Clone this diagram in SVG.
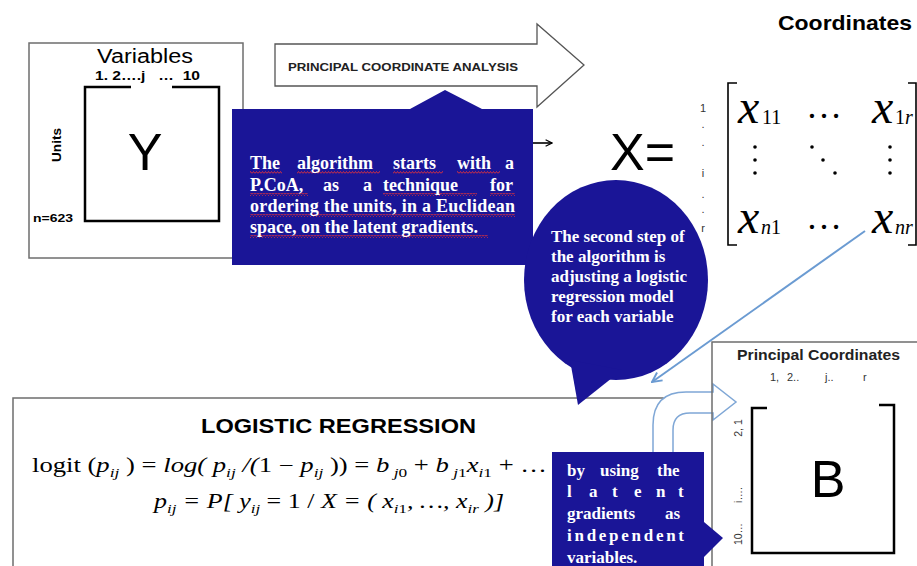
<svg xmlns="http://www.w3.org/2000/svg" width="917" height="566" viewBox="0 0 917 566">
<defs>
<style>
.sans{font-family:"Liberation Sans",Arial,sans-serif}
.serif{font-family:"Liberation Serif","Times New Roman",serif}
.b{font-weight:bold}
.i{font-style:italic}
.box{fill:#fff;stroke:#6e6e6e;stroke-width:1.5}
.blue{fill:#1a1597}
.wt{fill:#fff;font-family:"Liberation Serif","Times New Roman",serif;font-weight:bold}
.brk{fill:none;stroke:#000;stroke-width:2.5}
.mbrk{fill:none;stroke:#000;stroke-width:1.6}
.sq{fill:url(#wave)}
.lab{font-family:"Liberation Sans",Arial,sans-serif;fill:#333}
</style>
<pattern id="wave" patternUnits="userSpaceOnUse" width="3" height="3">
<path d="M0,2.5 L1.5,0.5 L3,2.5" fill="none" stroke="#e0303a" stroke-width="0.9"/>
</pattern>
<marker id="ab" viewBox="0 0 10 10" refX="9" refY="5" markerWidth="8" markerHeight="8" markerUnits="userSpaceOnUse" orient="auto">
<path d="M1,1 L9,5 L1,9" fill="none" stroke="#000" stroke-width="1.6"/>
</marker>
<marker id="al" viewBox="0 0 10 10" refX="9" refY="5" markerWidth="12" markerHeight="12" markerUnits="userSpaceOnUse" orient="auto">
<path d="M1,1 L9,5 L1,9" fill="none" stroke="#6b9bd2" stroke-width="1.6"/>
</marker>
</defs>
<rect width="917" height="566" fill="#fff"/>

<g id="input-matrix">
<rect class="box" x="29" y="43" width="214" height="215"/>
<text class="sans" x="97" y="63" font-size="20" textLength="96" lengthAdjust="spacingAndGlyphs">Variables</text>
<text class="sans b" x="95" y="80" font-size="12" textLength="105" lengthAdjust="spacingAndGlyphs" xml:space="preserve">1. 2….j   …  10</text>
<path class="brk" d="M131,87 L85,87 L85,221 L219,221 L219,87 L172,87"/>
<text class="sans" x="145" y="170" font-size="52" text-anchor="middle">Y</text>
<text class="sans b" font-size="13" text-anchor="middle" transform="translate(61,145) rotate(-90)" textLength="34" lengthAdjust="spacingAndGlyphs">Units</text>
<text class="sans b" x="33" y="222" font-size="11.5" textLength="40" lengthAdjust="spacingAndGlyphs">n=623</text>
</g>

<g id="pcoa-arrow">
<path d="M275,44 L537,44 L537,24 L584,65 L537,107 L537,86 L275,86 Z" fill="#fff" stroke="#555" stroke-width="1.3"/>
<text class="sans b" x="288" y="71" font-size="11.5" textLength="230" lengthAdjust="spacingAndGlyphs" fill="#222">PRINCIPAL COORDINATE ANALYSIS</text>
</g>

<g id="coordinates-title">
<text class="sans b" x="778" y="30" font-size="21" textLength="134" lengthAdjust="spacingAndGlyphs">Coordinates</text>
</g>

<g id="matrix-x">
<text class="sans" x="610" y="170" font-size="52">X=</text>
<g class="lab" font-size="11" text-anchor="middle">
<text x="703" y="112">1</text>
<text x="703" y="128">.</text>
<text x="703" y="146">.</text>
<text x="703" y="177">i</text>
<text x="703" y="198">.</text>
<text x="703" y="213">.</text>
<text x="703" y="232">r</text>
</g>
<path class="mbrk" d="M737,83 L728,83 L728,245 L737,245"/>
<path class="mbrk" d="M908,83 L916,83 L916,245 L908,245"/>
<g class="serif">
<text x="738" y="123" font-size="48" class="serif i">x</text>
<text x="762" y="124" font-size="20" class="serif">11</text>
<text x="824" y="118" font-size="36" text-anchor="middle">…</text>
<text x="872" y="123" font-size="48" class="serif i">x</text>
<text x="895" y="124" font-size="20" class="serif">1<tspan class="i">r</tspan></text>
<circle cx="755" cy="147" r="1.8"/><circle cx="755" cy="160" r="1.8"/><circle cx="755" cy="173" r="1.8"/>
<circle cx="812" cy="147" r="1.8"/><circle cx="823" cy="160" r="1.8"/><circle cx="835" cy="173" r="1.8"/>
<circle cx="890" cy="147" r="1.8"/><circle cx="890" cy="160" r="1.8"/><circle cx="890" cy="173" r="1.8"/>
<text x="738" y="233" font-size="48" class="serif i">x</text>
<text x="761" y="234" font-size="20" class="serif i">n<tspan font-style="normal">1</tspan></text>
<text x="824" y="229" font-size="36" text-anchor="middle">…</text>
<text x="872" y="233" font-size="48" class="serif i">x</text>
<text x="895" y="234" font-size="20" class="serif i">nr</text>
</g>
</g>

<g id="logistic-box">
<rect class="box" x="13" y="398" width="650" height="200"/>
<text class="sans b" x="201" y="433" font-size="19.5" textLength="275" lengthAdjust="spacingAndGlyphs">LOGISTIC REGRESSION</text>
<text class="serif" x="32" y="472" font-size="20" textLength="515" lengthAdjust="spacingAndGlyphs">logit (<tspan class="i">p</tspan><tspan class="i" font-size="13" dy="5">ij</tspan><tspan dy="-5"> ) = </tspan><tspan class="i">log( p</tspan><tspan class="i" font-size="13" dy="5">ij</tspan><tspan class="i" dy="-5"> /(</tspan>1 − <tspan class="i">p</tspan><tspan class="i" font-size="13" dy="5">ij</tspan><tspan dy="-5"> )) = </tspan><tspan class="i">b</tspan><tspan class="i" font-size="13" dy="5"> j</tspan><tspan font-size="13">0</tspan><tspan dy="-5"> + </tspan><tspan class="i">b</tspan><tspan class="i" font-size="13" dy="5"> j</tspan><tspan font-size="13">1</tspan><tspan class="i" dy="-5">x</tspan><tspan class="i" font-size="13" dy="5">i</tspan><tspan font-size="13">1</tspan><tspan dy="-5"> + …</tspan></text>
<text class="serif i" x="154" y="508" font-size="20" textLength="350" lengthAdjust="spacingAndGlyphs">p<tspan font-size="13" dy="5">ij</tspan><tspan dy="-5"> = P[ y</tspan><tspan font-size="13" dy="5">ij</tspan><tspan dy="-5" font-style="normal"> = 1 / </tspan><tspan dy="0">X = ( x</tspan><tspan font-size="13" dy="5">i</tspan><tspan font-size="13" font-style="normal">1</tspan><tspan dy="-5">, …, x</tspan><tspan font-size="13" dy="5">ir</tspan><tspan dy="-5"> )]</tspan></text>
</g>

<g id="connectors">
<line x1="533" y1="143" x2="552" y2="143" stroke="#000" stroke-width="1.6" marker-end="url(#ab)"/>
<line x1="865" y1="231" x2="652" y2="382" stroke="#6b9bd2" stroke-width="2" marker-end="url(#al)"/>
<path d="M653,452 L653,425 Q653,392 686,392 L713,392 L713,384 L736,402 L713,420 L713,413 L690,413 Q673,413 673,430 L673,452" fill="#fff" stroke="#7fa7d6" stroke-width="1.5"/>
</g>

<g id="principal-coordinates">
<path d="M712,566 L712,342 L917,342" fill="none" stroke="#6e6e6e" stroke-width="1.5"/>
<text class="sans b" x="737" y="360" font-size="14.5" textLength="163" lengthAdjust="spacingAndGlyphs" fill="#222">Principal Coordinates</text>
<text class="lab" y="381" font-size="11"><tspan x="770">1,</tspan><tspan x="787">2..</tspan><tspan x="825">j..</tspan><tspan x="863">r</tspan></text>
<path class="brk" d="M767,408 L752,408 L752,553 L894,553 L894,405 L879,405"/>
<text class="sans" x="828" y="497" font-size="52" text-anchor="middle">B</text>
<g class="lab" font-size="10.5" text-anchor="middle">
<text transform="translate(742,428) rotate(-90)">2, 1</text>
<text transform="translate(742,495) rotate(-90)">i….</text>
<text transform="translate(742,534) rotate(-90)">10…</text>
</g>
</g>

<g id="callout-pcoa">
<path class="blue" d="M232,109 L410,109 L445,90 L482,109 L533,109 L533,265 L232,265 Z"/>
<rect class="sq" x="250" y="171" width="32" height="3"/>
<rect class="sq" x="297" y="171" width="83" height="3"/>
<rect class="sq" x="393" y="171" width="50" height="3"/>
<rect class="sq" x="457" y="171" width="43" height="3"/>
<rect class="sq" x="250" y="193" width="58" height="3"/>
<rect class="sq" x="383" y="193" width="94" height="3"/>
<rect class="sq" x="490" y="193" width="25" height="3"/>
<rect class="sq" x="250" y="214" width="265" height="3"/>
<rect class="sq" x="250" y="235" width="238" height="3"/>
<text class="wt" font-size="18" y="169"><tspan x="250">The</tspan><tspan x="297">algorithm</tspan><tspan x="393">starts</tspan><tspan x="457">with</tspan><tspan x="505">a</tspan></text>
<text class="wt" font-size="18" y="191"><tspan x="250">P.CoA,</tspan><tspan x="323">as</tspan><tspan x="363">a</tspan><tspan x="383">technique</tspan><tspan x="490">for</tspan></text>
<text class="wt" font-size="18" x="250" y="212" textLength="265" lengthAdjust="spacing">ordering the units, in a Euclidean</text>
<text class="wt" font-size="18" x="250" y="233">space, on the latent gradients.</text>
</g>

<g id="callout-logistic">
<ellipse class="blue" cx="616" cy="280" rx="92" ry="100"/>
<path class="blue" d="M570,360 L578,405 L622,370 Z"/>
<text class="wt" font-size="17" x="551" y="242">The second step of</text>
<text class="wt" font-size="17" x="551" y="262">the algorithm is</text>
<text class="wt" font-size="17" x="551" y="282">adjusting a logistic</text>
<text class="wt" font-size="17" x="551" y="302">regression model</text>
<text class="wt" font-size="17" x="551" y="322">for each variable</text>
</g>

<g id="callout-gradients">
<path class="blue" d="M552,452 L704,452 L704,522 L723,538 L704,557 L704,566 L552,566 Z"/>
<text class="wt" font-size="17" y="476"><tspan x="567">by</tspan><tspan x="600">using</tspan><tspan x="657">the</tspan></text>
<text class="wt" font-size="17" y="497"><tspan x="567">l</tspan><tspan x="589">a</tspan><tspan x="612">t</tspan><tspan x="634">e</tspan><tspan x="656">n</tspan><tspan x="678">t</tspan></text>
<text class="wt" font-size="17" y="519"><tspan x="567">gradients</tspan><tspan x="665">as</tspan></text>
<text class="wt" font-size="17" x="567" y="541" textLength="117" lengthAdjust="spacing">independent</text>
<text class="wt" font-size="17" x="567" y="563">variables.</text>
</g>
</svg>
